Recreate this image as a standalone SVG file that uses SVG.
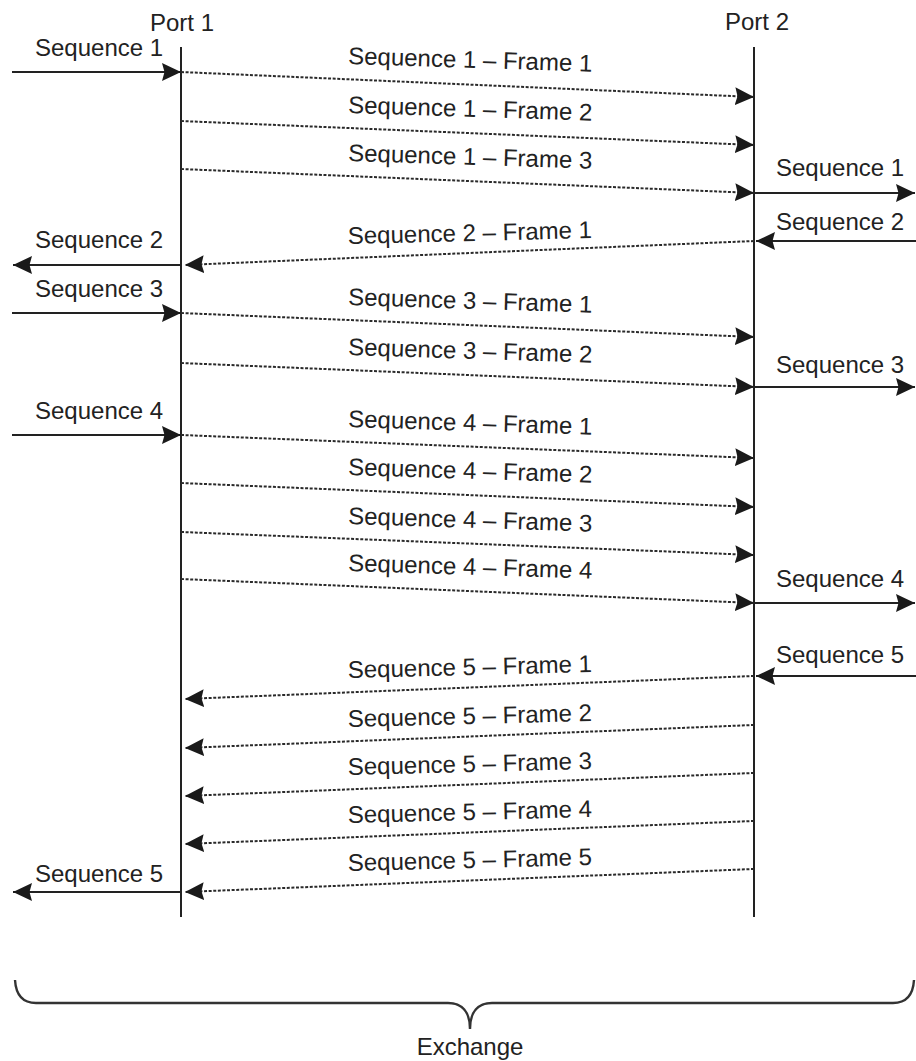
<svg xmlns="http://www.w3.org/2000/svg" width="916" height="1061" viewBox="0 0 916 1061">
<style>
text{font-family:"Liberation Sans",Arial,sans-serif;font-size:24px;fill:#222}
.life{stroke:#222;stroke-width:2;fill:none}
.solid{stroke:#222;stroke-width:2;fill:none}
.dash{stroke:#2a2a2a;stroke-width:2;fill:none;stroke-dasharray:3 1.6}
.brace{stroke:#333;stroke-width:2.4;fill:none}
</style>
<defs>
<marker id="ah" markerUnits="userSpaceOnUse" markerWidth="22" markerHeight="20" refX="19" refY="9" orient="auto">
<path d="M0,0 L19,9 L0,18 L2.5,9 Z" fill="#1a1a1a"/>
</marker>
</defs>
<rect width="916" height="1061" fill="#fff"/>
<g id="port1">
<text x="182" y="31" text-anchor="middle">Port 1</text>
<line class="life" x1="181" y1="47" x2="181" y2="917"/>
</g>
<g id="port2">
<text x="757" y="30" text-anchor="middle">Port 2</text>
<line class="life" x1="754" y1="47" x2="754" y2="917"/>
</g>
<g id="connectors">
<path class="solid" d="M12,72 H181" marker-end="url(#ah)"/>
<text x="35" y="56">Sequence 1</text>
<path class="solid" d="M754,193 H915" marker-end="url(#ah)"/>
<text x="776" y="176">Sequence 1</text>
<path class="solid" d="M916,241 H756" marker-end="url(#ah)"/>
<text x="776" y="230">Sequence 2</text>
<path class="solid" d="M181,265 H13" marker-end="url(#ah)"/>
<text x="35" y="248">Sequence 2</text>
<path class="solid" d="M12,313 H181" marker-end="url(#ah)"/>
<text x="35" y="297">Sequence 3</text>
<path class="solid" d="M754,387 H915" marker-end="url(#ah)"/>
<text x="776" y="373">Sequence 3</text>
<path class="solid" d="M12,435 H181" marker-end="url(#ah)"/>
<text x="35" y="419">Sequence 4</text>
<path class="solid" d="M754,603 H915" marker-end="url(#ah)"/>
<text x="776" y="587">Sequence 4</text>
<path class="solid" d="M916,676 H756" marker-end="url(#ah)"/>
<text x="776" y="663">Sequence 5</text>
<path class="solid" d="M181,892 H13" marker-end="url(#ah)"/>
<text x="35" y="882">Sequence 5</text>

<path class="dash" d="M181,72 L754,97" marker-end="url(#ah)"/>
<text x="348" y="64" transform="rotate(1.8 348 64)">Sequence 1 – Frame 1</text>
<path class="dash" d="M181,121 L754,145" marker-end="url(#ah)"/>
<text x="348" y="113" transform="rotate(1.8 348 113)">Sequence 1 – Frame 2</text>
<path class="dash" d="M181,169 L754,193" marker-end="url(#ah)"/>
<text x="348" y="161" transform="rotate(1.8 348 161)">Sequence 1 – Frame 3</text>
<path class="dash" d="M181,313 L754,337" marker-end="url(#ah)"/>
<text x="348" y="305" transform="rotate(1.8 348 305)">Sequence 3 – Frame 1</text>
<path class="dash" d="M181,363 L754,387" marker-end="url(#ah)"/>
<text x="348" y="355" transform="rotate(1.8 348 355)">Sequence 3 – Frame 2</text>
<path class="dash" d="M181,435 L754,458" marker-end="url(#ah)"/>
<text x="348" y="427" transform="rotate(1.8 348 427)">Sequence 4 – Frame 1</text>
<path class="dash" d="M181,483 L754,507" marker-end="url(#ah)"/>
<text x="348" y="475" transform="rotate(1.8 348 475)">Sequence 4 – Frame 2</text>
<path class="dash" d="M181,532 L754,555" marker-end="url(#ah)"/>
<text x="348" y="524" transform="rotate(1.8 348 524)">Sequence 4 – Frame 3</text>
<path class="dash" d="M181,579 L754,603" marker-end="url(#ah)"/>
<text x="348" y="571" transform="rotate(1.8 348 571)">Sequence 4 – Frame 4</text>

<path class="dash" d="M754,241 L185,265" marker-end="url(#ah)"/>
<text x="348" y="244" transform="rotate(-1.4 348 244)">Sequence 2 – Frame 1</text>
<path class="dash" d="M754,676 L185,699" marker-end="url(#ah)"/>
<text x="348" y="678" transform="rotate(-1.4 348 678)">Sequence 5 – Frame 1</text>
<path class="dash" d="M754,725 L185,748" marker-end="url(#ah)"/>
<text x="348" y="727" transform="rotate(-1.4 348 727)">Sequence 5 – Frame 2</text>
<path class="dash" d="M754,773 L185,796" marker-end="url(#ah)"/>
<text x="348" y="775" transform="rotate(-1.4 348 775)">Sequence 5 – Frame 3</text>
<path class="dash" d="M754,821 L185,844" marker-end="url(#ah)"/>
<text x="348" y="823" transform="rotate(-1.4 348 823)">Sequence 5 – Frame 4</text>
<path class="dash" d="M754,869 L185,892" marker-end="url(#ah)"/>
<text x="348" y="871" transform="rotate(-1.4 348 871)">Sequence 5 – Frame 5</text>
</g>
<g id="exchange">
<path class="brace" d="M15,980 C16,996 24,1003 36,1003 L448,1003 C462,1003 470,1012 470,1029 C470,1012 478,1003 492,1003 L893,1003 C905,1003 913,996 914,980"/>
<text x="470" y="1055" text-anchor="middle">Exchange</text>
</g>
</svg>
